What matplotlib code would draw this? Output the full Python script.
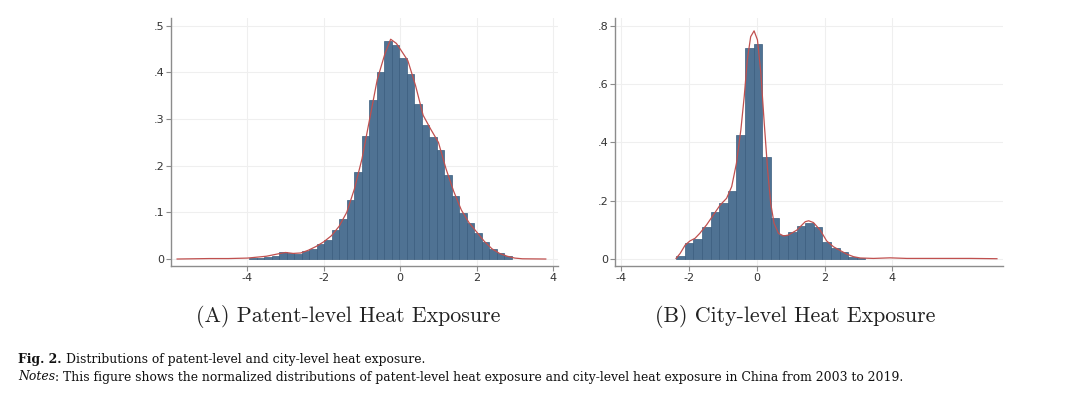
import numpy as np
import matplotlib
matplotlib.use("Agg")
import matplotlib.pyplot as plt

# ---------------- data ----------------
# Panel A: patent-level heat exposure (histogram density)
a_bin_start = -3.947
a_bin_width = 0.196
a_heights = [0.002, 0.003, 0.004, 0.006, 0.014, 0.013, 0.011, 0.017, 0.022, 0.032,
             0.040, 0.062, 0.086, 0.126, 0.187, 0.264, 0.340, 0.401, 0.468, 0.459,
             0.430, 0.396, 0.333, 0.287, 0.262, 0.234, 0.179, 0.134, 0.098, 0.077,
             0.056, 0.036, 0.021, 0.012, 0.006]
a_kde_x = [-5.84, -5.0, -4.5, -4.0, -3.5, -3.2, -3.0, -2.8, -2.6, -2.4, -2.2, -2.0,
           -1.8, -1.6, -1.4, -1.2, -1.0, -0.8, -0.6, -0.4, -0.25, -0.1, 0.0, 0.2,
           0.4, 0.6, 0.8, 1.0, 1.2, 1.4, 1.6, 1.8, 2.0, 2.2, 2.4, 2.6, 2.8, 3.0,
           3.2, 3.81]
a_kde_y = [0.0, 0.001, 0.001, 0.002, 0.006, 0.011, 0.014, 0.012, 0.013, 0.019, 0.027,
           0.037, 0.050, 0.070, 0.100, 0.150, 0.215, 0.300, 0.385, 0.440, 0.471, 0.462,
           0.450, 0.425, 0.372, 0.308, 0.278, 0.250, 0.193, 0.145, 0.105, 0.078, 0.058,
           0.038, 0.022, 0.012, 0.006, 0.002, 0.0005, 0.0]

# Panel B: city-level heat exposure (histogram density)
b_bin_start = -2.375
b_bin_width = 0.2536
b_heights = [0.010, 0.055, 0.069, 0.111, 0.162, 0.193, 0.232, 0.425, 0.722, 0.738,
             0.349, 0.142, 0.081, 0.094, 0.113, 0.123, 0.111, 0.057, 0.039, 0.024,
             0.008, 0.003]
b_kde_x = [-2.38, -2.26, -2.11, -1.97, -1.82, -1.68, -1.48, -1.28, -1.08, -0.89,
           -0.74, -0.60, -0.47, -0.37, -0.28, -0.18, -0.08, 0.02, 0.12, 0.22, 0.32,
           0.41, 0.51, 0.64, 0.79, 0.93, 1.18, 1.43, 1.53, 1.67, 1.87, 2.06, 2.26,
           2.46, 2.65, 2.85, 3.05, 3.44, 3.93, 4.42, 5.40, 6.30, 7.08]
b_kde_y = [0.002, 0.019, 0.048, 0.062, 0.071, 0.088, 0.117, 0.151, 0.185, 0.208,
           0.248, 0.328, 0.442, 0.557, 0.682, 0.762, 0.782, 0.751, 0.637, 0.465, 0.305,
           0.191, 0.122, 0.088, 0.079, 0.082, 0.099, 0.128, 0.131, 0.125, 0.099, 0.062,
           0.042, 0.029, 0.017, 0.008, 0.0035, 0.002, 0.004, 0.002, 0.002, 0.002, 0.001]

x_ticks = [-4, -2, 0, 2, 4]
a_yticks = [0, 0.1, 0.2, 0.3, 0.4, 0.5]
a_ylabels = ["0", ".1", ".2", ".3", ".4", ".5"]
b_yticks = [0, 0.2, 0.4, 0.6, 0.8]
b_ylabels = ["0", ".2", ".4", ".6", ".8"]

title_a = "(A) Patent-level Heat Exposure"
title_b = "(B) City-level Heat Exposure"
caption_1_bold = "Fig. 2."
caption_1 = "Distributions of patent-level and city-level heat exposure."
caption_2_it = "Notes"
caption_2 = (": This figure shows the normalized distributions of patent-level heat exposure "
             "and city-level heat exposure in China from 2003 to 2019.")

# ---------------- style ----------------
W, H = 1080, 399
fig = plt.figure(figsize=(W / 100, H / 100), dpi=100)
fig.patch.set_facecolor("white")

bar_face = "#4f7293"
bar_edge = "#3a5d7e"
kde_col = "#c0504f"
spine_col = "#8c8c8c"
grid_col = "#efefef"
tick_lbl_col = "#333333"
cap_font = "DejaVu Serif"
cap_size = 8.95


def px_axes(x0, x1, y0, y1):
    return fig.add_axes([x0 / W, 1 - y1 / H, (x1 - x0) / W, (y1 - y0) / H])


def style(ax, yt, yl, xlim, ylim):
    ax.set_xlim(*xlim)
    ax.set_ylim(*ylim)
    ax.set_xticks(x_ticks)
    ax.set_xticklabels([str(t) for t in x_ticks])
    ax.set_yticks(yt)
    ax.set_yticklabels(yl)
    for s in ["top", "right"]:
        ax.spines[s].set_visible(False)
    for s in ["left", "bottom"]:
        ax.spines[s].set_color(spine_col)
        ax.spines[s].set_linewidth(1.0)
    ax.tick_params(axis="both", colors=spine_col, length=3.5, width=0.8,
                   labelcolor=tick_lbl_col, labelsize=8, pad=1.5)
    for lbl in ax.get_xticklabels() + ax.get_yticklabels():
        lbl.set_family("DejaVu Sans")
    ax.grid(True, color=grid_col, linewidth=0.8)
    ax.set_axisbelow(True)


# Panel A
axA = px_axes(171, 558, 18, 265.6)
a_left = a_bin_start + a_bin_width * np.arange(len(a_heights))
axA.bar(a_left, a_heights, width=a_bin_width, align="edge", color=bar_face,
        edgecolor=bar_edge, linewidth=0.5, zorder=2)
axA.plot(a_kde_x, a_kde_y, color=kde_col, linewidth=0.9, zorder=3)
style(axA, a_yticks, a_ylabels, (-6.0, 4.13), (-0.0141, 0.5165))

# Panel B
axB = px_axes(615, 1002.7, 18, 265.6)
b_left = b_bin_start + b_bin_width * np.arange(len(b_heights))
axB.bar(b_left, b_heights, width=b_bin_width, align="edge", color=bar_face,
        edgecolor=bar_edge, linewidth=0.5, zorder=2)
axB.plot(b_kde_x, b_kde_y, color=kde_col, linewidth=0.9, zorder=3)
style(axB, b_yticks, b_ylabels, (-4.18, 7.25), (-0.0226, 0.826))

# Panel titles
fig.text(348 / W, 1 - 316 / H, title_a, family="cmr10", fontsize=15.8,
         ha="center", va="center", color="#222222")
fig.text(795 / W, 1 - 316 / H, title_b, family="cmr10", fontsize=15.8,
         ha="center", va="center", color="#222222")

# Caption
y1 = 1 - 359 / H
y2 = 1 - 377 / H
t1 = fig.text(18 / W, y1, caption_1_bold, family=cap_font, fontsize=cap_size,
              fontweight="bold", ha="left", va="center", color="#111111")
fig.canvas.draw()
bb = t1.get_window_extent()
fig.text((bb.x1 + 5) / W, y1, caption_1, family=cap_font, fontsize=cap_size,
         ha="left", va="center", color="#111111")
t2 = fig.text(18 / W, y2, caption_2_it, family=cap_font, fontsize=cap_size,
              style="italic", ha="left", va="center", color="#111111")
fig.canvas.draw()
bb2 = t2.get_window_extent()
fig.text(bb2.x1 / W, y2, caption_2, family=cap_font, fontsize=cap_size,
         ha="left", va="center", color="#111111")

fig.savefig("out.png", dpi=100, facecolor="white")
